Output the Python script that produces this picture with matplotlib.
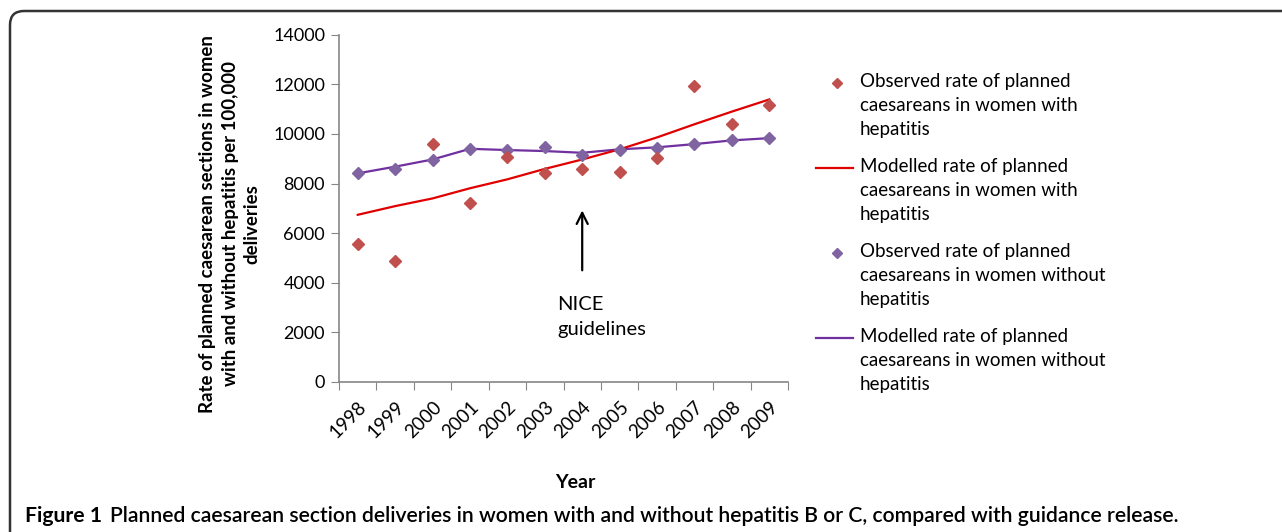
import matplotlib
matplotlib.use("Agg")
import matplotlib.pyplot as plt
from matplotlib.lines import Line2D
from matplotlib.patches import FancyBboxPatch

years = ["1998", "1999", "2000", "2001", "2002", "2003", "2004", "2005",
         "2006", "2007", "2008", "2009"]
obs_hep = [5560, 4870, 9600, 7220, 9080, 8440, 8590, 8460, 9040, 11940, 10410, 11160]
mod_hep = [6740, 7090, 7400, 7810, 8170, 8590, 8970, 9380, 9860, 10390, 10900, 11390]
obs_nohep = [8410, 8590, 8950, 9400, 9360, 9470, 9140, 9360, 9430, 9590, 9750, 9830]
mod_nohep = [8410, 8680, 8970, 9400, 9350, 9310, 9240, 9380, 9460, 9590, 9740, 9830]
yticks = [0, 2000, 4000, 6000, 8000, 10000, 12000, 14000]
legend_labels = [
    "Observed rate of planned\ncaesareans in women with\nhepatitis",
    "Modelled rate of planned\ncaesareans in women with\nhepatitis",
    "Observed rate of planned\ncaesareans in women without\nhepatitis",
    "Modelled rate of planned\ncaesareans in women without\nhepatitis",
]

W, H = 1282, 532
fig = plt.figure(figsize=(W / 100, H / 100), dpi=100)
FONT = "Lato"
plt.rcParams["font.family"] = [FONT, "DejaVu Sans"]

def fx(px):
    return px / W

def fy(py):
    return 1 - py / H

ax = fig.add_axes([fx(339), fy(382), fx(788) - fx(339), fy(34.7) - fy(382)])
x = list(range(len(years)))

c_obs_hep = "#C0504D"
c_mod_hep = "#E00000"
c_obs_nohep = "#8064A2"
c_mod_nohep = "#7030A0"

ax.plot(x, mod_nohep, color=c_mod_nohep, lw=1.6, zorder=2)
ax.plot(x, mod_hep, color=c_mod_hep, lw=1.6, zorder=2)
ax.plot(x, obs_nohep, ls="none", marker="D", ms=6.5, color=c_obs_nohep, zorder=3)
ax.plot(x, obs_hep, ls="none", marker="D", ms=6.5, color=c_obs_hep, zorder=3)

ax.set_xlim(-0.5, len(years) - 0.5)
ax.set_ylim(0, 14000)
ax.set_yticks(yticks)
ax.set_yticklabels([str(v) for v in yticks], fontsize=13)
ax.set_xticks([i - 0.5 for i in range(len(years) + 1)], minor=False)
ax.set_xticklabels([""] * (len(years) + 1))
ax.set_xticks(x, minor=True)
ax.set_xticklabels(years, minor=True, rotation=45, ha="right", va="top",
                   rotation_mode="anchor", fontsize=13.5)
ax.tick_params(axis="x", which="minor", length=0, pad=12)
ax.tick_params(axis="x", which="major", length=6, color="#868686", direction="out")
ax.tick_params(axis="y", length=6, color="#868686", direction="out", pad=4)
for s in ["top", "right"]:
    ax.spines[s].set_visible(False)
for s in ["left", "bottom"]:
    ax.spines[s].set_color("#868686")
    ax.spines[s].set_linewidth(1.2)

# annotation
ax.annotate("", xy=(6, 7030), xytext=(6, 4390),
            arrowprops=dict(arrowstyle="->", color="black", lw=1.6,
                            mutation_scale=20))
ax.text(5.33, 3450, "NICE\nguidelines", fontsize=14.5, ha="left", va="top",
        linespacing=1.55)

# axis labels
fig.text(fx(230), fy(224),
         "Rate of planned caesarean sections in women\nwith and without hepatitis per 100,000\ndeliveries",
         rotation=90, ha="center", va="center", fontsize=13.4, fontweight="bold",
         linespacing=1.38)
fig.text(fx(575), fy(483), "Year", ha="center", va="center", fontsize=14,
         fontweight="bold")

# legend (manual)
entry_y = [83, 168, 253, 338]
styles = [("marker", c_obs_hep), ("line", c_mod_hep),
          ("marker", c_obs_nohep), ("line", c_mod_nohep)]
for yy, (kind, col), lab in zip(entry_y, styles, legend_labels):
    if kind == "marker":
        fig.add_artist(Line2D([fx(836.7)], [fy(yy)], marker="D", ms=5,
                              color=col, ls="none", transform=fig.transFigure))
    else:
        fig.add_artist(Line2D([fx(816), fx(853)], [fy(yy), fy(yy)], lw=1.6,
                              color=col, transform=fig.transFigure))
    fig.text(fx(860), fy(yy - 10), lab, ha="left", va="top", fontsize=13.5,
             linespacing=1.5)

# caption
fig.text(fx(25), fy(522), "Figure 1", ha="left", va="baseline", fontsize=15.2,
         fontweight="bold")
fig.text(fx(110), fy(522),
         "Planned caesarean section deliveries in women with and without hepatitis B or C, compared with guidance release.",
         ha="left", va="baseline", fontsize=15.2, fontweight="semibold")

# frame
frame = FancyBboxPatch((10, -40), W + 40, H + 40 - 11,
                       boxstyle="round,pad=0,rounding_size=14",
                       transform=None, fill=False, ec="#333333", lw=1.8)
fig.add_artist(frame)

fig.savefig("out.png", dpi=100)
